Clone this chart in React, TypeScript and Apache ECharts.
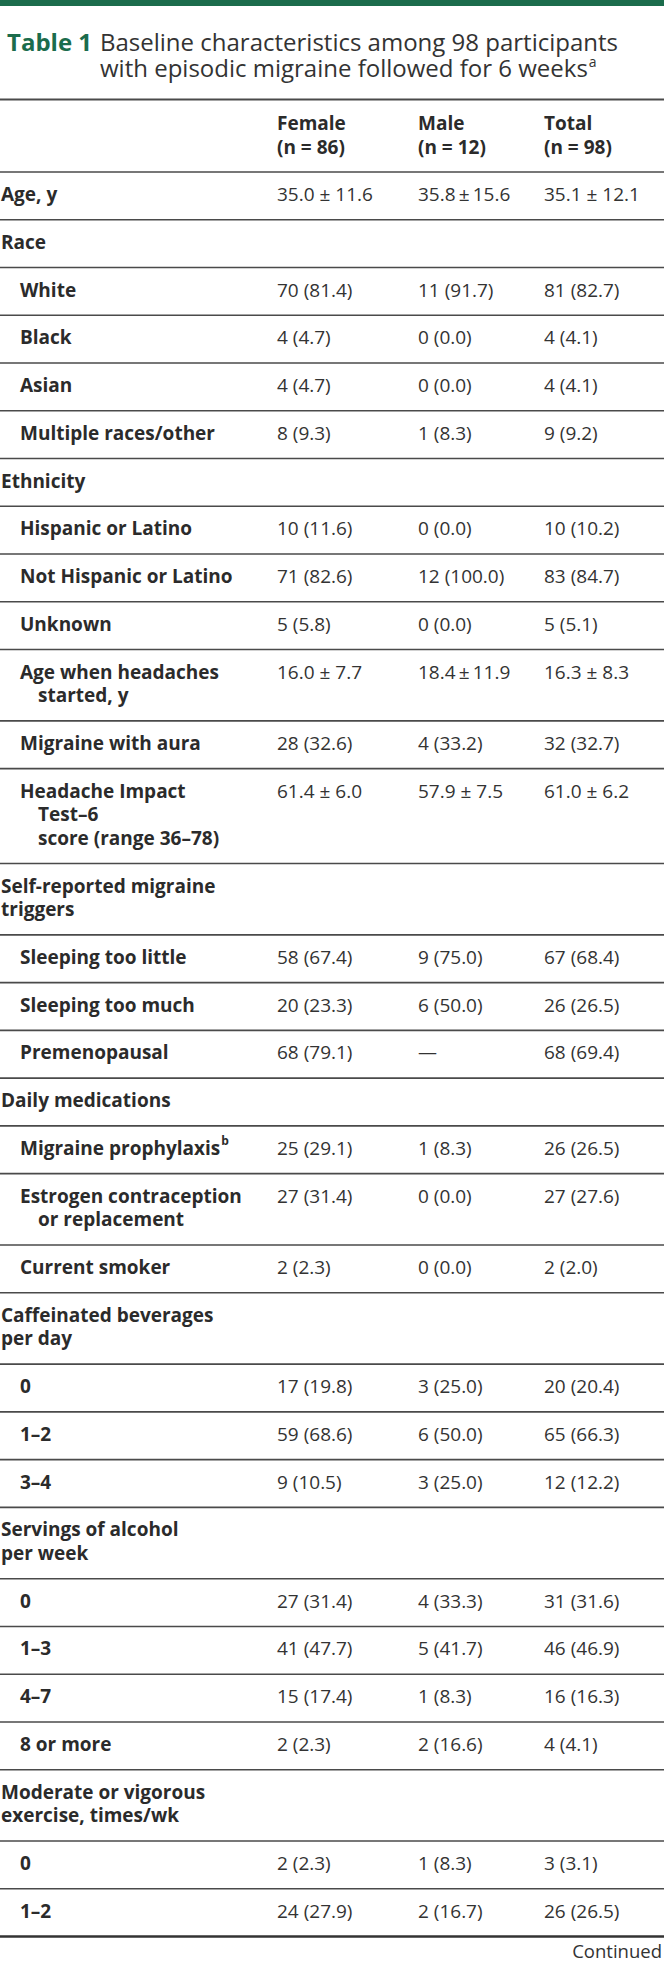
import React, { useEffect, useRef } from "react";
import * as echarts from "echarts";

const TITLE_LABEL = "Table 1";
const TITLE_LINES = [
  "Baseline characteristics among 98 participants",
  "with episodic migraine followed for 6 weeks",
];
const TITLE_NOTE = "a";
const CONTINUED = "Continued";

const COLUMN_NAMES = ["Female", "Male", "Total"];
const COLUMN_NS = ["(n = 86)", "(n = 12)", "(n = 98)"];

const ROW_LABELS: string[][] = [
  ["Age, y"],
  ["Race"],
  ["White"],
  ["Black"],
  ["Asian"],
  ["Multiple races/other"],
  ["Ethnicity"],
  ["Hispanic or Latino"],
  ["Not Hispanic or Latino"],
  ["Unknown"],
  ["Age when headaches", "started, y"],
  ["Migraine with aura"],
  ["Headache Impact", "Test–6", "score (range 36–78)"],
  ["Self-reported migraine", "triggers"],
  ["Sleeping too little"],
  ["Sleeping too much"],
  ["Premenopausal"],
  ["Daily medications"],
  ["Migraine prophylaxis"],
  ["Estrogen contraception", "or replacement"],
  ["Current smoker"],
  ["Caffeinated beverages", "per day"],
  ["0"],
  ["1–2"],
  ["3–4"],
  ["Servings of alcohol", "per week"],
  ["0"],
  ["1–3"],
  ["4–7"],
  ["8 or more"],
  ["Moderate or vigorous", "exercise, times/wk"],
  ["0"],
  ["1–2"],
];

// 0 = section heading, 1 = indented item
const ROW_LEVELS: number[] = [
  0, 0, 1, 1, 1, 1, 0, 1, 1, 1, 1, 1, 1, 0, 1, 1, 1, 0, 1, 1, 1, 0, 1, 1, 1, 0, 1, 1, 1, 1, 0, 1, 1,
];

const ROW_NOTES: string[] = [
  "", "", "", "", "", "", "", "", "", "", "", "", "", "", "", "", "", "", "b", "", "", "", "", "", "", "", "", "", "", "", "", "", "",
];

const FEMALE_VALUES: string[] = [
  "35.0 ± 11.6", "", "70 (81.4)", "4 (4.7)", "4 (4.7)", "8 (9.3)", "", "10 (11.6)", "71 (82.6)", "5 (5.8)",
  "16.0 ± 7.7", "28 (32.6)", "61.4 ± 6.0", "", "58 (67.4)", "20 (23.3)", "68 (79.1)", "", "25 (29.1)",
  "27 (31.4)", "2 (2.3)", "", "17 (19.8)", "59 (68.6)", "9 (10.5)", "", "27 (31.4)", "41 (47.7)",
  "15 (17.4)", "2 (2.3)", "", "2 (2.3)", "24 (27.9)",
];

const MALE_VALUES: string[] = [
  "35.8\u2009±\u200915.6", "", "11 (91.7)", "0 (0.0)", "0 (0.0)", "1 (8.3)", "", "0 (0.0)", "12 (100.0)", "0 (0.0)",
  "18.4\u2009±\u200911.9", "4 (33.2)", "57.9 ± 7.5", "", "9 (75.0)", "6 (50.0)", "—", "", "1 (8.3)",
  "0 (0.0)", "0 (0.0)", "", "3 (25.0)", "6 (50.0)", "3 (25.0)", "", "4 (33.3)", "5 (41.7)",
  "1 (8.3)", "2 (16.6)", "", "1 (8.3)", "2 (16.7)",
];

const TOTAL_VALUES: string[] = [
  "35.1 ± 12.1", "", "81 (82.7)", "4 (4.1)", "4 (4.1)", "9 (9.2)", "", "10 (10.2)", "83 (84.7)", "5 (5.1)",
  "16.3 ± 8.3", "32 (32.7)", "61.0 ± 6.2", "", "67 (68.4)", "26 (26.5)", "68 (69.4)", "", "26 (26.5)",
  "27 (27.6)", "2 (2.0)", "", "20 (20.4)", "65 (66.3)", "12 (12.2)", "", "31 (31.6)", "46 (46.9)",
  "16 (16.3)", "4 (4.1)", "", "3 (3.1)", "26 (26.5)",
];

const W = 664;
const H = 1963;
const FONT = '"Open Sans", "Noto Sans", sans-serif';
const GREEN = "#1b6c4c";
const TEXT = "#2b2b2b";
const RULE = "#4a4a4a";

function measure(text: string, size: number, weight: string): number {
  const c = document.createElement("canvas").getContext("2d");
  if (!c) return text.length * size * 0.55;
  c.font = `${weight} ${size}px "Open Sans"`;
  return c.measureText(text).width;
}

function txt(x: number, y: number, text: string, size: number, weight: string, fill: string, align = "left") {
  return {
    type: "text",
    x,
    y,
    silent: true,
    style: {
      text,
      fontSize: size,
      fontWeight: weight,
      fontFamily: FONT,
      fill,
      align,
      verticalAlign: "middle",
    },
  };
}

function rule(y: number, w: number, color = RULE) {
  return {
    type: "line",
    silent: true,
    shape: { x1: 0, y1: y, x2: W, y2: y },
    style: { stroke: color, lineWidth: w },
  };
}

export default function App() {
  const ref = useRef<HTMLDivElement>(null);

  useEffect(() => {
    if (!ref.current) return;
    const chart = echarts.init(ref.current, undefined, { renderer: "svg" });
    const els: any[] = [];

    // top bar
    els.push({ type: "rect", silent: true, shape: { x: 0, y: 0, width: W, height: 6 }, style: { fill: GREEN } });

    // title
    const tSize = 24;
    const tLine = 26;
    els.push(txt(7, 41, TITLE_LABEL, tSize, "bold", GREEN));
    els.push({
      type: "text",
      x: 100,
      y: 41 - tLine / 2,
      silent: true,
      style: {
        text: `${TITLE_LINES[0]}\n${TITLE_LINES[1]}{sup|${TITLE_NOTE}}`,
        fontSize: tSize,
        fontFamily: FONT,
        fill: "#333333",
        lineHeight: tLine,
        align: "left",
        verticalAlign: "top",
        rich: {
          sup: {
            fontSize: 14,
            fontFamily: FONT,
            fill: "#333333",
            lineHeight: 14,
            verticalAlign: "top",
            padding: [0, 0, 0, 1],
          },
        },
      },
    });

    // header
    const colX = [277, 418, 544];
    const fs = 19;
    els.push(rule(99.5, 2.2));
    COLUMN_NAMES.forEach((n, i) => {
      els.push(txt(colX[i], 123, n, fs, "bold", TEXT));
      els.push(txt(colX[i], 147, COLUMN_NS[i], fs, "bold", TEXT));
    });
    els.push(rule(172, 1.6));

    // rows
    const rowH = 47.75;
    const lineH = 23.6;
    let top = 172;
    ROW_LABELS.forEach((lines, r) => {
      const level = ROW_LEVELS[r];
      const y0 = top + 22;
      lines.forEach((ln, k) => {
        const x = level === 0 ? 1 : k === 0 ? 20 : 38;
        els.push(txt(x, y0 + k * lineH, ln, fs, "bold", TEXT));
      });
      if (ROW_NOTES[r]) {
        const w = measure(lines[0], fs, "bold");
        els.push(txt(20 + w + 1, y0 - 7, ROW_NOTES[r], 12, "bold", TEXT));
      }
      const vals = [FEMALE_VALUES[r], MALE_VALUES[r], TOTAL_VALUES[r]];
      vals.forEach((v, i) => {
        if (v) els.push(txt(colX[i], y0, v, fs, "normal", "#333333"));
      });
      top += rowH + (lines.length - 1) * lineH;
      const last = r === ROW_LABELS.length - 1;
      els.push(rule(top, last ? 2.6 : 1.6, last ? "#333333" : RULE));
    });

    els.push(txt(662, top + 13.5, CONTINUED, 18.5, "normal", "#333333", "right"));

    chart.setOption({
      animation: false,
      backgroundColor: "#ffffff",
      graphic: { elements: els },
    });
    return () => chart.dispose();
  }, []);

  return (
    <div
      ref={ref}
      style={{ position: "absolute", left: 0, top: 0, width: W, height: H, background: "#fff" }}
    />
  );
}
